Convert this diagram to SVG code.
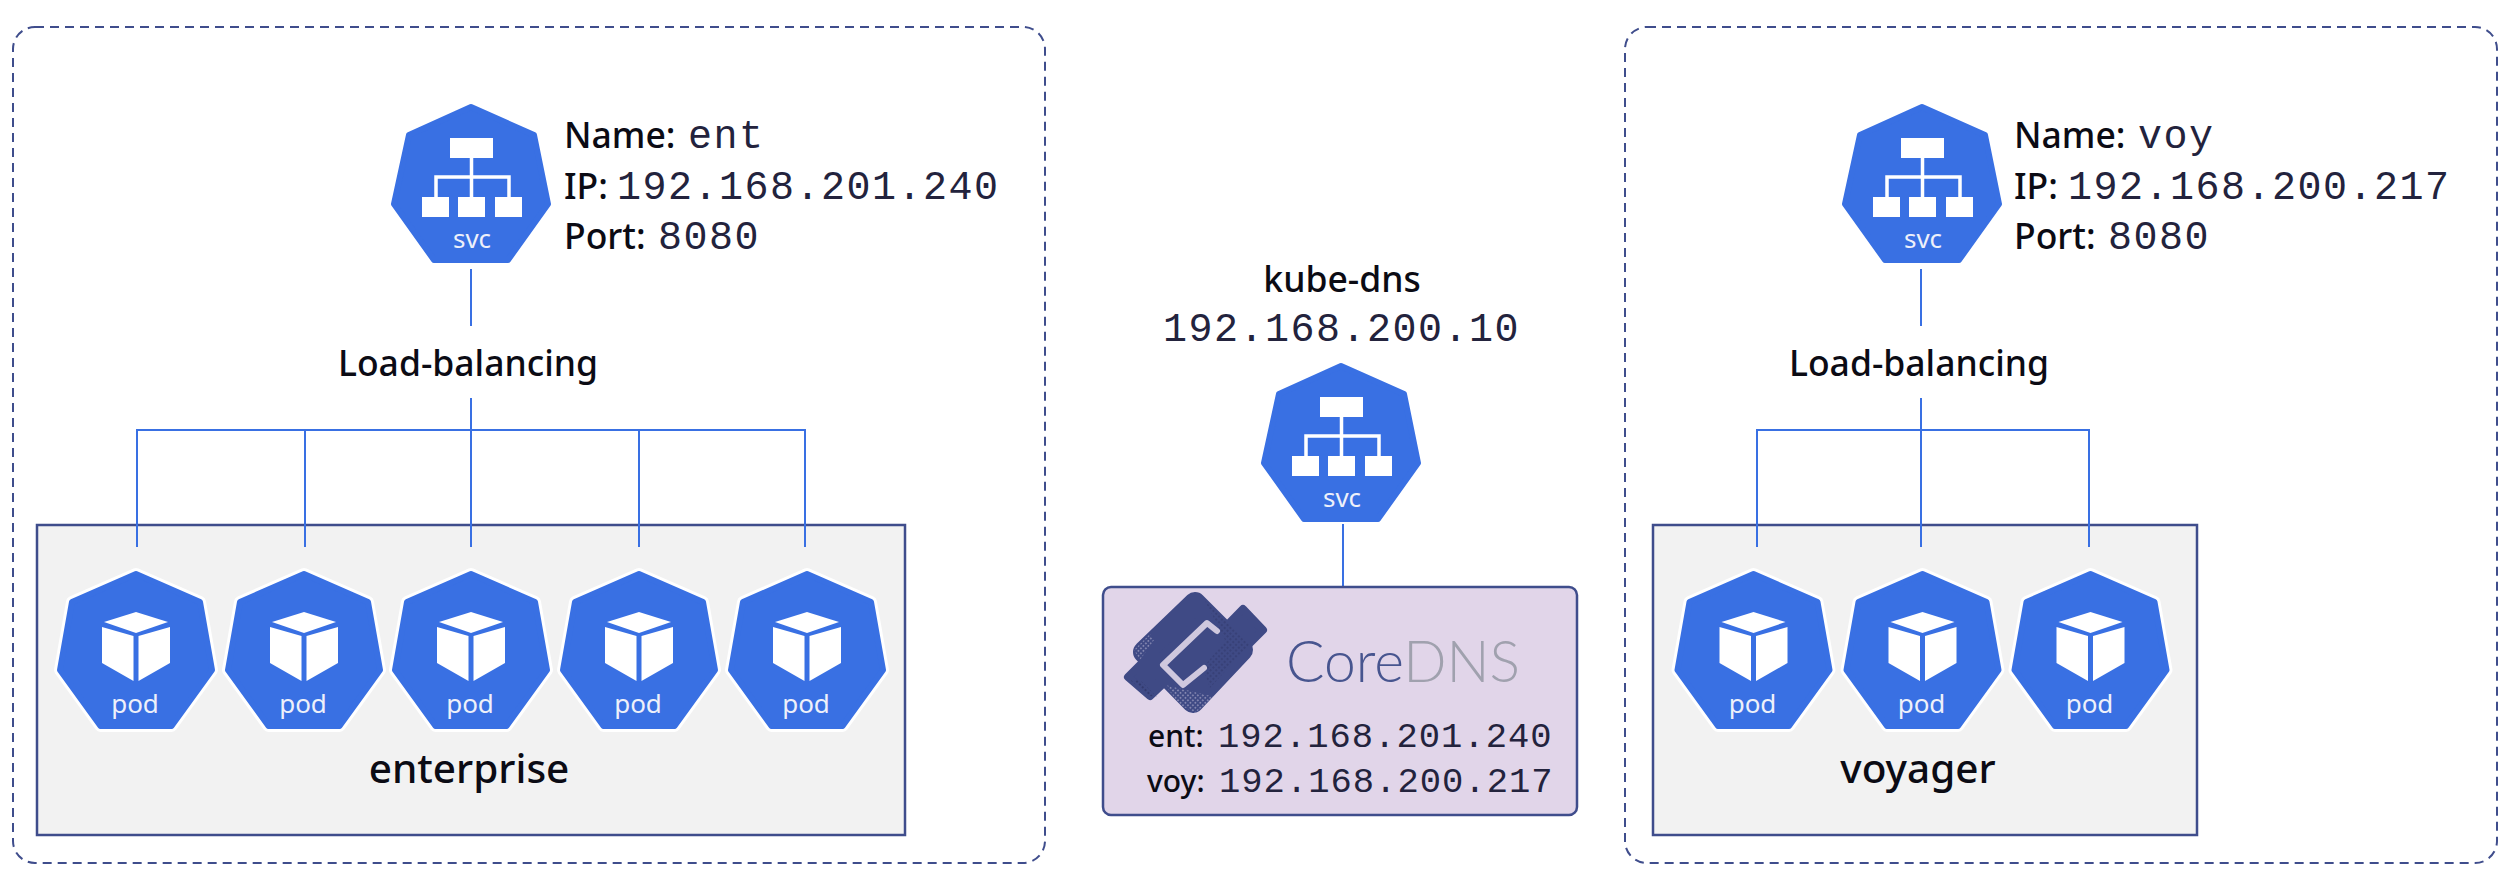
<svg xmlns="http://www.w3.org/2000/svg" width="2516" height="886" viewBox="0 0 2516 886">
<style>
.t{font-family:"Noto Sans","Open Sans",sans-serif;font-size:35.500px;font-weight:500;fill:#0b0b14}
.m{font-family:"Liberation Mono",monospace;font-size:40px;letter-spacing:1.500px;fill:#23233d}
.ms{font-size:35.500px;letter-spacing:1px}
.lbl{font-family:"Noto Sans","Open Sans",sans-serif;font-size:26px;fill:#eef0fa;text-anchor:middle}
.cluster{fill:none;stroke:#3f4d8c;stroke-width:2;stroke-dasharray:9 6}
.ns{fill:#f2f2f2;stroke:#3f4d8c;stroke-width:2.5}
.conn{fill:none;stroke:#3970e3;stroke-width:2}
.blue{fill:#3970e3;stroke:#3970e3;stroke-width:6;stroke-linejoin:round}
.halo{fill:#fff;stroke:#fff;stroke-width:12;stroke-linejoin:round}
.w{fill:#fff}
.wl{fill:none;stroke:#fff;stroke-width:3.5}
.nsname{font-size:40.500px}
.small{font-size:30px}
</style>
<defs>
<g id="podIcon">
<polygon class="halo" points="0,574 64,602 76,670 35.5,726 -35.5,726 -76,670 -64,602"/>
<polygon class="blue" points="0,574 64,602 76,670 35.5,726 -35.5,726 -76,670 -64,602"/>
<polygon class="w" points="0,612 32,622 0,633 -32,622"/>
<polygon class="w" points="-34,627 -2.5,636 -2.5,681 -34,663"/>
<polygon class="w" points="2.5,636 34,627 34,663 2.5,681"/>
<text class="lbl" x="-1" y="713">pod</text>
</g>
<g id="svcIcon">
<polygon class="blue" points="0,107 63,135 77,204 37,260 -37,260 -77,204 -62,135"/>
<rect class="w" x="-21" y="138" width="43" height="20"/>
<rect class="w" x="-49" y="197" width="27" height="20"/>
<rect class="w" x="-13" y="197" width="27" height="20"/>
<rect class="w" x="24" y="197" width="27" height="20"/>
<path class="wl" d="M0.500 158V197M-35 197V177H38V197"/>
<text class="lbl" x="1" y="248">svc</text>
</g>
<pattern id="dk" width="4" height="4" patternUnits="userSpaceOnUse" patternTransform="rotate(45)"><circle cx="2" cy="2" r="0.700" fill="#14163a"/></pattern>
<pattern id="lt" width="3.500" height="3.500" patternUnits="userSpaceOnUse" patternTransform="rotate(45)"><circle cx="1.700" cy="1.700" r="0.800" fill="#c9c4dc"/></pattern>
</defs>

<g id="cluster-left"><rect class="cluster" x="13" y="27" width="1032" height="836" rx="22"/></g>
<g id="cluster-right"><rect class="cluster" x="1625" y="27" width="872" height="836" rx="22"/></g>

<g id="ns-enterprise">
<rect class="ns" x="37" y="525" width="868" height="310"/>
<text class="t nsname" x="469" y="783" text-anchor="middle">enterprise</text>
</g>
<g id="ns-voyager">
<rect class="ns" x="1653" y="525" width="544" height="310"/>
<text class="t nsname" x="1918" y="783" text-anchor="middle">voyager</text>
</g>

<g id="connectors">
<path class="conn" d="M471 269V326"/>
<path class="conn" d="M471 398V547M137 547V430H805V547M305 430V547M639 430V547"/>
<path class="conn" d="M1921 269V326"/>
<path class="conn" d="M1921 398V547M1757 547V430H2089V547"/>
<path class="conn" d="M1343 524V587"/>
</g>

<g id="svc-ent">
<use href="#svcIcon" x="471" y="0"/>
<text class="t" x="564" y="148">Name:</text><text class="m" x="688" y="148">ent</text>
<text class="t" x="564" y="199">IP:</text><text class="m" x="617" y="199">192.168.201.240</text>
<text class="t" x="564" y="249">Port:</text><text class="m" x="658" y="249">8080</text>
</g>
<g id="label-lb-left"><text class="t" x="468" y="376" text-anchor="middle">Load-balancing</text></g>

<g id="svc-voy">
<use href="#svcIcon" x="1922" y="0"/>
<text class="t" x="2014" y="148">Name:</text><text class="m" x="2138" y="148">voy</text>
<text class="t" x="2014" y="199">IP:</text><text class="m" x="2068" y="199">192.168.200.217</text>
<text class="t" x="2014" y="249">Port:</text><text class="m" x="2108" y="249">8080</text>
</g>
<g id="label-lb-right"><text class="t" x="1919" y="376" text-anchor="middle">Load-balancing</text></g>

<g id="pod-e1"><use href="#podIcon" x="136" y="0"/></g>
<g id="pod-e2"><use href="#podIcon" x="304" y="0"/></g>
<g id="pod-e3"><use href="#podIcon" x="471" y="0"/></g>
<g id="pod-e4"><use href="#podIcon" x="639" y="0"/></g>
<g id="pod-e5"><use href="#podIcon" x="807" y="0"/></g>
<g id="pod-v1"><use href="#podIcon" x="1753.500" y="0"/></g>
<g id="pod-v2"><use href="#podIcon" x="1922.500" y="0"/></g>
<g id="pod-v3"><use href="#podIcon" x="2090.500" y="0"/></g>

<g id="svc-kube-dns">
<text class="t" x="1342" y="292" text-anchor="middle">kube-dns</text>
<text class="m" x="1163" y="341">192.168.200.10</text>
<use href="#svcIcon" x="1341" y="259"/>
</g>

<g id="coredns">
<rect x="1103" y="587" width="474" height="228" rx="8" fill="#e1d5e9" stroke="#3f4d8c" stroke-width="2.500"/>
<g id="coredns-logo">
<polygon points="1243,609 1263,630 1223,670 1203,650" fill="#3f4a85" stroke="#3f4a85" stroke-width="8" stroke-linejoin="round"/>
<polygon points="1128,677 1150,696 1170,677 1148,657" fill="#3f4a85" stroke="#3f4a85" stroke-width="8" stroke-linejoin="round"/>
<polygon points="1195,603 1242,650 1193,702 1144,652" fill="#3f4a85" stroke="#3f4a85" stroke-width="22" stroke-linejoin="round"/>
<polygon points="1203,597 1250,644 1210,688 1203,668 1225,640" fill="url(#dk)" opacity="0.500"/>
<polygon points="1140,680 1158,698 1150,696 1130,680" fill="url(#dk)" opacity="0.800"/>
<polygon points="1165,685 1215,697 1195,713 1180,705" fill="url(#lt)" opacity="0.700"/>
<polygon points="1134,650 1150,634 1154,640 1140,660" fill="url(#lt)" opacity="0.700"/>
<path d="M1217 631L1207 623L1163 665L1183 685L1204 668" fill="none" stroke="#cfc8de" stroke-width="6" stroke-linejoin="round" stroke-linecap="round"/>
</g>
<text x="1286" y="682" style="font-family:Lato,'Noto Sans',sans-serif;font-weight:300;font-size:57px"><tspan fill="#47558f">Core</tspan><tspan fill="#a0a1ae">DNS</tspan></text>
<text class="t small" x="1148" y="747">ent:</text><text class="m ms" x="1218" y="747">192.168.201.240</text>
<text class="t small" x="1147" y="792">voy:</text><text class="m ms" x="1219" y="792">192.168.200.217</text>
</g>
</svg>
